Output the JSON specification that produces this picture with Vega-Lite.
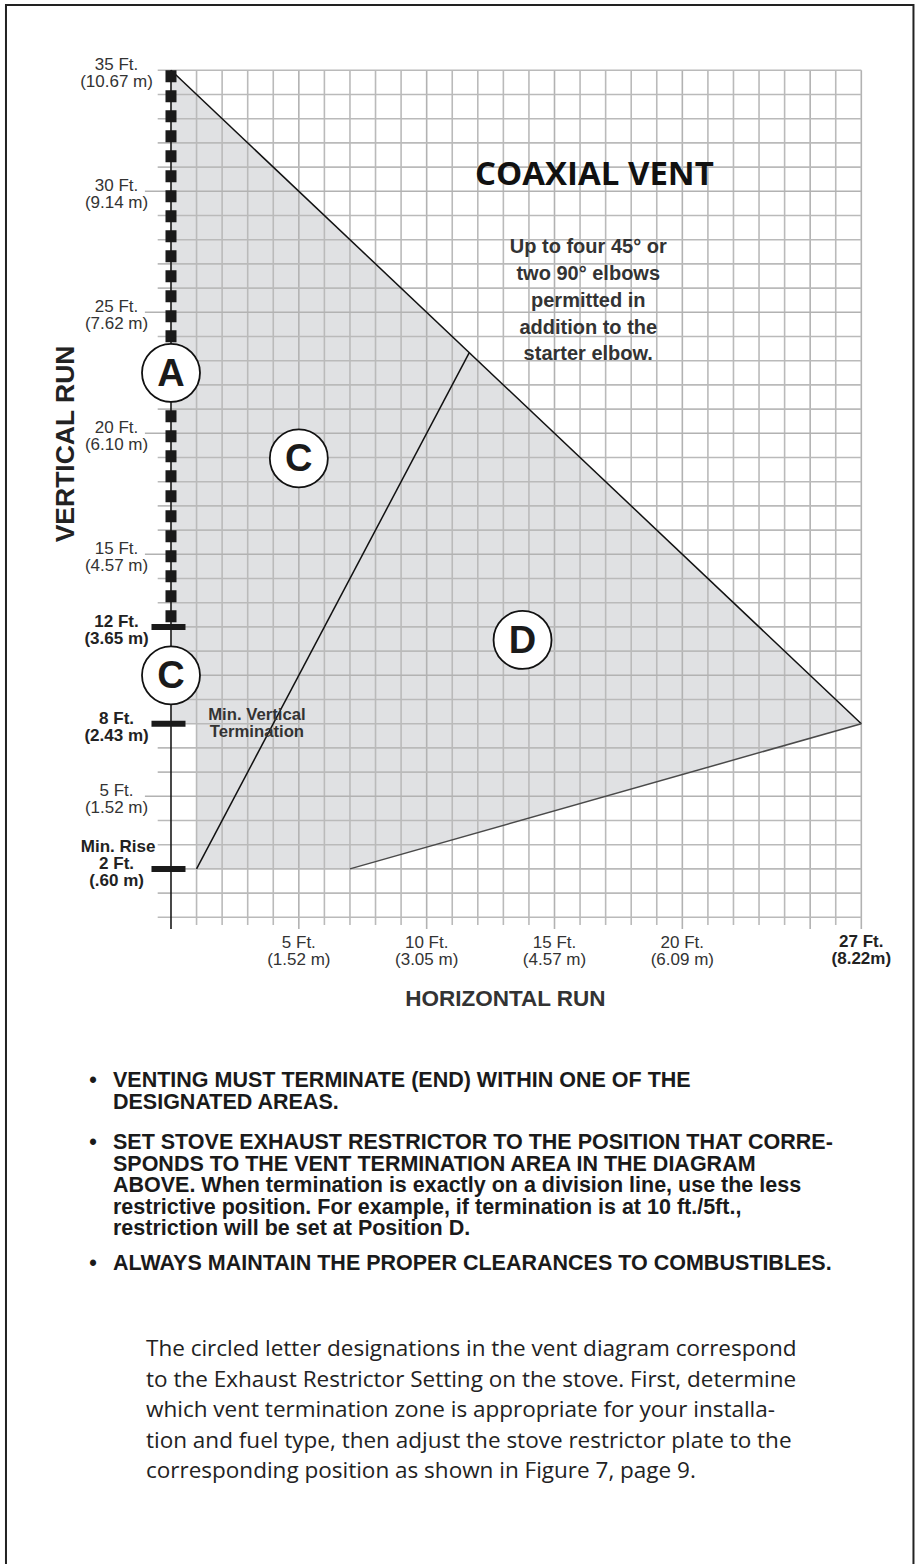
{
  "$schema": "https://vega.github.io/schema/vega-lite/v6.json",
  "width": 915,
  "height": 1564,
  "autosize": {"type": "none"},
  "padding": 0,
  "background": "white",
  "config": {"view": {"stroke": null}},
  "datasets": {
    "zone": [
      {"part": "a", "x": 0, "top": 35, "bottom": 8},
      {"part": "a", "x": 1, "top": 34, "bottom": 8},
      {"part": "b", "x": 1, "top": 34, "bottom": 2},
      {"part": "b", "x": 7, "top": 28, "bottom": 2},
      {"part": "b", "x": 27, "top": 8, "bottom": 8}
    ],
    "vgrid": [
      {"ft": 1, "major": false}, {"ft": 2, "major": false}, {"ft": 3, "major": false}, {"ft": 4, "major": false},
      {"ft": 5, "major": true}, {"ft": 6, "major": false}, {"ft": 7, "major": false}, {"ft": 8, "major": false},
      {"ft": 9, "major": false}, {"ft": 10, "major": true}, {"ft": 11, "major": false}, {"ft": 12, "major": false},
      {"ft": 13, "major": false}, {"ft": 14, "major": false}, {"ft": 15, "major": true}, {"ft": 16, "major": false},
      {"ft": 17, "major": false}, {"ft": 18, "major": false}, {"ft": 19, "major": false}, {"ft": 20, "major": true},
      {"ft": 21, "major": false}, {"ft": 22, "major": false}, {"ft": 23, "major": false}, {"ft": 24, "major": false},
      {"ft": 25, "major": true}, {"ft": 26, "major": false}, {"ft": 27, "major": true}
    ],
    "hgrid": [
      {"ft": 0, "major": false}, {"ft": 1, "major": false}, {"ft": 2, "major": false}, {"ft": 3, "major": false},
      {"ft": 4, "major": false}, {"ft": 5, "major": true}, {"ft": 6, "major": false}, {"ft": 7, "major": false},
      {"ft": 8, "major": false}, {"ft": 9, "major": false}, {"ft": 10, "major": true}, {"ft": 11, "major": false},
      {"ft": 12, "major": false}, {"ft": 13, "major": false}, {"ft": 14, "major": false}, {"ft": 15, "major": true},
      {"ft": 16, "major": false}, {"ft": 17, "major": false}, {"ft": 18, "major": false}, {"ft": 19, "major": false},
      {"ft": 20, "major": true}, {"ft": 21, "major": false}, {"ft": 22, "major": false}, {"ft": 23, "major": false},
      {"ft": 24, "major": false}, {"ft": 25, "major": true}, {"ft": 26, "major": false}, {"ft": 27, "major": false},
      {"ft": 28, "major": false}, {"ft": 29, "major": false}, {"ft": 30, "major": true}, {"ft": 31, "major": false},
      {"ft": 32, "major": false}, {"ft": 33, "major": false}, {"ft": 34, "major": false}, {"ft": 35, "major": false}
    ],
    "bounds": [
      {"edge": "outer", "x": 0, "y": 35, "x2": 27, "y2": 8},
      {"edge": "divider", "x": 1, "y": 2, "x2": 11.667, "y2": 23.333},
      {"edge": "lower", "x": 7, "y": 2, "x2": 27, "y2": 8}
    ],
    "marks": [{"ft": 12}, {"ft": 8}, {"ft": 2}],
    "zones": [
      {"x": 0, "y": 22.5, "letter": "A"},
      {"x": 0, "y": 10, "letter": "C"},
      {"x": 5, "y": 18.96, "letter": "C"},
      {"x": 13.75, "y": 11.46, "letter": "D"}
    ],
    "ylabels": [
      {"ft": 35, "label": "35 Ft.\n(10.67 m)", "bold": false},
      {"ft": 30, "label": "30 Ft.\n(9.14 m)", "bold": false},
      {"ft": 25, "label": "25 Ft.\n(7.62 m)", "bold": false},
      {"ft": 20, "label": "20 Ft.\n(6.10 m)", "bold": false},
      {"ft": 15, "label": "15 Ft.\n(4.57 m)", "bold": false},
      {"ft": 12, "label": "12 Ft.\n(3.65 m)", "bold": true},
      {"ft": 8, "label": "8 Ft.\n(2.43 m)", "bold": true},
      {"ft": 5, "label": "5 Ft.\n(1.52 m)", "bold": false},
      {"ft": 2, "label": "2 Ft.\n(.60 m)", "bold": true}
    ],
    "xlabels": [
      {"ft": 5, "label": "5 Ft.\n(1.52 m)", "bold": false},
      {"ft": 10, "label": "10 Ft.\n(3.05 m)", "bold": false},
      {"ft": 15, "label": "15 Ft.\n(4.57 m)", "bold": false},
      {"ft": 20, "label": "20 Ft.\n(6.09 m)", "bold": false},
      {"ft": 27, "label": "27 Ft.\n(8.22m)", "bold": true}
    ]
  },
  "layer": [
    {
      "data": {"values": [{"frame": "page"}]},
      "mark": {"type": "rect", "filled": false, "color": "#222", "strokeWidth": 2},
      "encoding": {
        "x": {"datum": -6.454, "type": "quantitative", "scale": {"domain": [-6.688, 29.1], "nice": false, "zero": false}, "axis": null},
        "x2": {"datum": 29.04},
        "y": {"datum": 37.698, "type": "quantitative", "scale": {"domain": [-26.723, 37.905], "nice": false, "zero": false}, "axis": null},
        "y2": {"datum": -30}
      }
    },
    {
      "data": {"name": "zone"},
      "mark": {"type": "area", "color": "#e0e1e3"},
      "encoding": {
        "x": {"field": "x", "type": "quantitative", "scale": {"domain": [-6.688, 29.1], "nice": false, "zero": false}, "axis": null},
        "y": {"field": "top", "type": "quantitative", "scale": {"domain": [-26.723, 37.905], "nice": false, "zero": false}, "axis": null},
        "y2": {"field": "bottom"},
        "detail": {"field": "part", "type": "nominal"}
      }
    },
    {
      "data": {"name": "vgrid"},
      "transform": [{"filter": "!datum.major"}],
      "mark": {"type": "rule", "color": "#bababa", "strokeWidth": 1.6},
      "encoding": {
        "x": {"field": "ft", "type": "quantitative", "scale": {"domain": [-6.688, 29.1], "nice": false, "zero": false}, "axis": null},
        "y": {"datum": 35, "type": "quantitative", "scale": {"domain": [-26.723, 37.905], "nice": false, "zero": false}, "axis": null},
        "y2": {"datum": -0.32}
      }
    },
    {
      "data": {"name": "vgrid"},
      "transform": [{"filter": "datum.major"}],
      "mark": {"type": "rule", "color": "#b2b2b2", "strokeWidth": 1.6},
      "encoding": {
        "x": {"field": "ft", "type": "quantitative", "scale": {"domain": [-6.688, 29.1], "nice": false, "zero": false}, "axis": null},
        "y": {"datum": 35, "type": "quantitative", "scale": {"domain": [-26.723, 37.905], "nice": false, "zero": false}, "axis": null},
        "y2": {"datum": -0.48}
      }
    },
    {
      "data": {"name": "hgrid"},
      "transform": [{"filter": "!datum.major"}],
      "mark": {"type": "rule", "color": "#bababa", "strokeWidth": 1.6},
      "encoding": {
        "y": {"field": "ft", "type": "quantitative", "scale": {"domain": [-26.723, 37.905], "nice": false, "zero": false}, "axis": null},
        "x": {"datum": -0.52, "type": "quantitative", "scale": {"domain": [-6.688, 29.1], "nice": false, "zero": false}, "axis": null},
        "x2": {"datum": 27}
      }
    },
    {
      "data": {"name": "hgrid"},
      "transform": [{"filter": "datum.major"}],
      "mark": {"type": "rule", "color": "#b2b2b2", "strokeWidth": 1.6},
      "encoding": {
        "y": {"field": "ft", "type": "quantitative", "scale": {"domain": [-26.723, 37.905], "nice": false, "zero": false}, "axis": null},
        "x": {"datum": -1.02, "type": "quantitative", "scale": {"domain": [-6.688, 29.1], "nice": false, "zero": false}, "axis": null},
        "x2": {"datum": 27}
      }
    },
    {
      "data": {"name": "bounds"},
      "mark": {"type": "rule", "strokeWidth": 1.5},
      "encoding": {
        "x": {"field": "x", "type": "quantitative", "scale": {"domain": [-6.688, 29.1], "nice": false, "zero": false}, "axis": null},
        "x2": {"field": "x2"},
        "y": {"field": "y", "type": "quantitative", "scale": {"domain": [-26.723, 37.905], "nice": false, "zero": false}, "axis": null},
        "y2": {"field": "y2"},
        "color": {"field": "edge", "type": "nominal", "scale": {"domain": ["outer", "divider", "lower"], "range": ["#111111", "#111111", "#4a4a4a"]}, "legend": null}
      }
    },
    {
      "data": {"values": [{"axis": "vertical"}]},
      "mark": {"type": "rule", "color": "#1a1a1a", "strokeWidth": 1.6},
      "encoding": {
        "x": {"datum": 0, "type": "quantitative", "scale": {"domain": [-6.688, 29.1], "nice": false, "zero": false}, "axis": null},
        "y": {"datum": 35, "type": "quantitative", "scale": {"domain": [-26.723, 37.905], "nice": false, "zero": false}, "axis": null},
        "y2": {"datum": -0.48}
      }
    },
    {
      "data": {"values": [{"zone": "A"}]},
      "mark": {"type": "rule", "color": "#1a1a1a", "strokeWidth": 11, "strokeDash": [12, 8], "strokeCap": "butt"},
      "encoding": {
        "x": {"datum": 0, "type": "quantitative", "scale": {"domain": [-6.688, 29.1], "nice": false, "zero": false}, "axis": null},
        "y": {"datum": 35, "type": "quantitative", "scale": {"domain": [-26.723, 37.905], "nice": false, "zero": false}, "axis": null},
        "y2": {"datum": 12}
      }
    },
    {
      "data": {"name": "marks"},
      "mark": {"type": "rule", "color": "#1a1a1a", "strokeWidth": 6},
      "encoding": {
        "y": {"field": "ft", "type": "quantitative", "scale": {"domain": [-26.723, 37.905], "nice": false, "zero": false}, "axis": null},
        "x": {"datum": -0.763, "type": "quantitative", "scale": {"domain": [-6.688, 29.1], "nice": false, "zero": false}, "axis": null},
        "x2": {"datum": 0.567}
      }
    },
    {
      "data": {"name": "zones"},
      "mark": {"type": "point", "shape": "circle", "size": 3364, "filled": true, "fill": "white", "stroke": "#111", "strokeWidth": 1.8, "opacity": 1},
      "encoding": {
        "x": {"field": "x", "type": "quantitative", "scale": {"domain": [-6.688, 29.1], "nice": false, "zero": false}, "axis": null},
        "y": {"field": "y", "type": "quantitative", "scale": {"domain": [-26.723, 37.905], "nice": false, "zero": false}, "axis": null}
      }
    },
    {
      "data": {"name": "zones"},
      "mark": {"type": "text", "font": "Liberation Sans", "fontWeight": "bold", "fontSize": 38, "color": "#1a1a1a", "align": "center", "baseline": "middle", "dy": 2},
      "encoding": {
        "x": {"field": "x", "type": "quantitative", "scale": {"domain": [-6.688, 29.1], "nice": false, "zero": false}, "axis": null},
        "y": {"field": "y", "type": "quantitative", "scale": {"domain": [-26.723, 37.905], "nice": false, "zero": false}, "axis": null},
        "text": {"field": "letter", "type": "nominal"}
      }
    },
    {
      "data": {"name": "ylabels"},
      "transform": [{"filter": "!datum.bold"}],
      "mark": {"type": "text", "font": "Liberation Sans", "fontSize": 17, "color": "#333", "align": "center", "baseline": "alphabetic", "lineBreak": "\n", "lineHeight": 17},
      "encoding": {
        "y": {"field": "ft", "type": "quantitative", "scale": {"domain": [-26.723, 37.905], "nice": false, "zero": false}, "axis": null},
        "x": {"datum": -2.13, "type": "quantitative", "scale": {"domain": [-6.688, 29.1], "nice": false, "zero": false}, "axis": null},
        "text": {"field": "label", "type": "nominal"}
      }
    },
    {
      "data": {"name": "ylabels"},
      "transform": [{"filter": "datum.bold"}],
      "mark": {"type": "text", "font": "Liberation Sans", "fontWeight": "bold", "fontSize": 17, "color": "#222", "align": "center", "baseline": "alphabetic", "lineBreak": "\n", "lineHeight": 17},
      "encoding": {
        "y": {"field": "ft", "type": "quantitative", "scale": {"domain": [-26.723, 37.905], "nice": false, "zero": false}, "axis": null},
        "x": {"datum": -2.13, "type": "quantitative", "scale": {"domain": [-6.688, 29.1], "nice": false, "zero": false}, "axis": null},
        "text": {"field": "label", "type": "nominal"}
      }
    },
    {
      "data": {"values": [{"label": "Min. Rise"}]},
      "mark": {"type": "text", "font": "Liberation Sans", "fontWeight": "bold", "fontSize": 17, "color": "#222", "align": "center", "baseline": "alphabetic", "dy": -17},
      "encoding": {
        "y": {"datum": 2, "type": "quantitative", "scale": {"domain": [-26.723, 37.905], "nice": false, "zero": false}, "axis": null},
        "x": {"datum": -2.07, "type": "quantitative", "scale": {"domain": [-6.688, 29.1], "nice": false, "zero": false}, "axis": null},
        "text": {"field": "label", "type": "nominal"}
      }
    },
    {
      "data": {"name": "xlabels"},
      "transform": [{"filter": "!datum.bold"}],
      "mark": {"type": "text", "font": "Liberation Sans", "fontSize": 17, "color": "#333", "align": "center", "baseline": "alphabetic", "lineBreak": "\n", "lineHeight": 17},
      "encoding": {
        "x": {"field": "ft", "type": "quantitative", "scale": {"domain": [-6.688, 29.1], "nice": false, "zero": false}, "axis": null},
        "y": {"datum": -1.27, "type": "quantitative", "scale": {"domain": [-26.723, 37.905], "nice": false, "zero": false}, "axis": null},
        "text": {"field": "label", "type": "nominal"}
      }
    },
    {
      "data": {"name": "xlabels"},
      "transform": [{"filter": "datum.bold"}],
      "mark": {"type": "text", "font": "Liberation Sans", "fontWeight": "bold", "fontSize": 17, "color": "#222", "align": "center", "baseline": "alphabetic", "lineBreak": "\n", "lineHeight": 17},
      "encoding": {
        "x": {"field": "ft", "type": "quantitative", "scale": {"domain": [-6.688, 29.1], "nice": false, "zero": false}, "axis": null},
        "y": {"datum": -1.22, "type": "quantitative", "scale": {"domain": [-26.723, 37.905], "nice": false, "zero": false}, "axis": null},
        "text": {"field": "label", "type": "nominal"}
      }
    },
    {
      "data": {"values": [{"label": "Min. Vertical\nTermination"}]},
      "mark": {"type": "text", "font": "Liberation Sans", "fontWeight": "bold", "fontSize": 16.7, "color": "#333", "align": "center", "baseline": "alphabetic", "lineBreak": "\n", "lineHeight": 16.7},
      "encoding": {
        "x": {"datum": 3.36, "type": "quantitative", "scale": {"domain": [-6.688, 29.1], "nice": false, "zero": false}, "axis": null},
        "y": {"datum": 8.157, "type": "quantitative", "scale": {"domain": [-26.723, 37.905], "nice": false, "zero": false}, "axis": null},
        "text": {"field": "label", "type": "nominal"}
      }
    },
    {
      "data": {"values": [{"label": "COAXIAL VENT"}]},
      "mark": {"type": "text", "font": "Open Sans", "fontWeight": "bold", "fontSize": 33, "color": "#111", "align": "center", "baseline": "alphabetic"},
      "encoding": {
        "x": {"datum": 16.56, "type": "quantitative", "scale": {"domain": [-6.688, 29.1], "nice": false, "zero": false}, "axis": null},
        "y": {"datum": 30.26, "type": "quantitative", "scale": {"domain": [-26.723, 37.905], "nice": false, "zero": false}, "axis": null},
        "text": {"field": "label", "type": "nominal"}
      }
    },
    {
      "data": {"values": [{"label": "Up to four 45° or\ntwo 90° elbows\npermitted in\naddition to the\nstarter elbow."}]},
      "mark": {"type": "text", "font": "Liberation Sans", "fontWeight": "bold", "fontSize": 20, "color": "#333", "align": "center", "baseline": "alphabetic", "lineBreak": "\n", "lineHeight": 26.8},
      "encoding": {
        "x": {"datum": 16.32, "type": "quantitative", "scale": {"domain": [-6.688, 29.1], "nice": false, "zero": false}, "axis": null},
        "y": {"datum": 27.44, "type": "quantitative", "scale": {"domain": [-26.723, 37.905], "nice": false, "zero": false}, "axis": null},
        "text": {"field": "label", "type": "nominal"}
      }
    },
    {
      "data": {"values": [{"label": "VERTICAL RUN"}]},
      "mark": {"type": "text", "font": "Liberation Sans", "fontWeight": "bold", "fontSize": 26.5, "color": "#222", "align": "center", "baseline": "middle", "angle": 270},
      "encoding": {
        "x": {"datum": -4.095, "type": "quantitative", "scale": {"domain": [-6.688, 29.1], "nice": false, "zero": false}, "axis": null},
        "y": {"datum": 19.56, "type": "quantitative", "scale": {"domain": [-26.723, 37.905], "nice": false, "zero": false}, "axis": null},
        "text": {"field": "label", "type": "nominal"}
      }
    },
    {
      "data": {"values": [{"label": "HORIZONTAL RUN"}]},
      "mark": {"type": "text", "font": "Liberation Sans", "fontWeight": "bold", "fontSize": 22.5, "color": "#333", "align": "center", "baseline": "alphabetic"},
      "encoding": {
        "x": {"datum": 13.08, "type": "quantitative", "scale": {"domain": [-6.688, 29.1], "nice": false, "zero": false}, "axis": null},
        "y": {"datum": -3.665, "type": "quantitative", "scale": {"domain": [-26.723, 37.905], "nice": false, "zero": false}, "axis": null},
        "text": {"field": "label", "type": "nominal"}
      }
    },
    {
      "data": {"values": [{"bullet": "•", "ft": -7.016}, {"bullet": "•", "ft": -9.578}, {"bullet": "•", "ft": -14.58}]},
      "mark": {"type": "text", "font": "Liberation Sans", "fontWeight": "bold", "fontSize": 21.5, "color": "#1a1a1a", "align": "left", "baseline": "alphabetic"},
      "encoding": {
        "x": {"datum": -3.2, "type": "quantitative", "scale": {"domain": [-6.688, 29.1], "nice": false, "zero": false}, "axis": null},
        "y": {"field": "ft", "type": "quantitative", "scale": {"domain": [-26.723, 37.905], "nice": false, "zero": false}, "axis": null},
        "text": {"field": "bullet", "type": "nominal"}
      }
    },
    {
      "data": {"values": [{"label": "VENTING MUST TERMINATE (END) WITHIN ONE OF THE\nDESIGNATED AREAS."}]},
      "mark": {"type": "text", "font": "Liberation Sans", "fontWeight": "bold", "fontSize": 21.5, "color": "#1a1a1a", "align": "left", "baseline": "alphabetic", "lineBreak": "\n", "lineHeight": 21.5},
      "encoding": {
        "x": {"datum": -2.27, "type": "quantitative", "scale": {"domain": [-6.688, 29.1], "nice": false, "zero": false}, "axis": null},
        "y": {"datum": -7.016, "type": "quantitative", "scale": {"domain": [-26.723, 37.905], "nice": false, "zero": false}, "axis": null},
        "text": {"field": "label", "type": "nominal"}
      }
    },
    {
      "data": {"values": [{"label": "SET STOVE EXHAUST RESTRICTOR TO THE POSITION THAT CORRE-\nSPONDS TO THE VENT TERMINATION AREA IN THE DIAGRAM\nABOVE. When termination is exactly on a division line, use the less\nrestrictive position. For example, if termination is at 10 ft./5ft.,\nrestriction will be set at Position D."}]},
      "mark": {"type": "text", "font": "Liberation Sans", "fontWeight": "bold", "fontSize": 21.5, "color": "#1a1a1a", "align": "left", "baseline": "alphabetic", "lineBreak": "\n", "lineHeight": 21.5},
      "encoding": {
        "x": {"datum": -2.27, "type": "quantitative", "scale": {"domain": [-6.688, 29.1], "nice": false, "zero": false}, "axis": null},
        "y": {"datum": -9.578, "type": "quantitative", "scale": {"domain": [-26.723, 37.905], "nice": false, "zero": false}, "axis": null},
        "text": {"field": "label", "type": "nominal"}
      }
    },
    {
      "data": {"values": [{"label": "ALWAYS MAINTAIN THE PROPER CLEARANCES TO COMBUSTIBLES."}]},
      "mark": {"type": "text", "font": "Liberation Sans", "fontWeight": "bold", "fontSize": 21.5, "color": "#1a1a1a", "align": "left", "baseline": "alphabetic"},
      "encoding": {
        "x": {"datum": -2.27, "type": "quantitative", "scale": {"domain": [-6.688, 29.1], "nice": false, "zero": false}, "axis": null},
        "y": {"datum": -14.58, "type": "quantitative", "scale": {"domain": [-26.723, 37.905], "nice": false, "zero": false}, "axis": null},
        "text": {"field": "label", "type": "nominal"}
      }
    },
    {
      "data": {"values": [{"label": "The circled letter designations in the vent diagram correspond\nto the Exhaust Restrictor Setting on the stove.  First, determine\nwhich vent termination zone is appropriate for your installa-\ntion and fuel type, then adjust the stove restrictor plate to the\ncorresponding position as shown in Figure 7, page 9."}]},
      "mark": {"type": "text", "font": "Open Sans", "fontSize": 22.5, "color": "#222", "align": "left", "baseline": "alphabetic", "lineBreak": "\n", "lineHeight": 30.5},
      "encoding": {
        "x": {"datum": -0.978, "type": "quantitative", "scale": {"domain": [-6.688, 29.1], "nice": false, "zero": false}, "axis": null},
        "y": {"datum": -18.13, "type": "quantitative", "scale": {"domain": [-26.723, 37.905], "nice": false, "zero": false}, "axis": null},
        "text": {"field": "label", "type": "nominal"}
      }
    }
  ]
}
